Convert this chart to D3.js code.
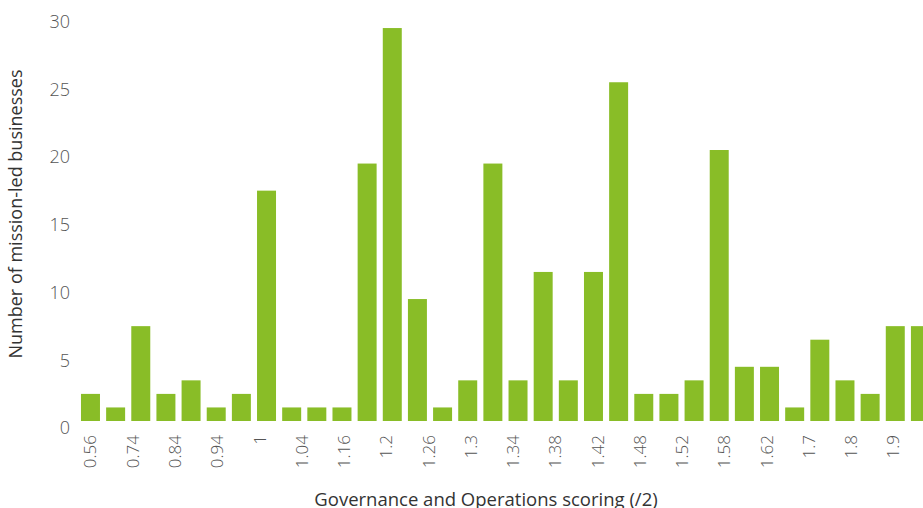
<!DOCTYPE html>
<html><head><meta charset="utf-8">
<script src="https://cdnjs.cloudflare.com/ajax/libs/d3/7.8.5/d3.min.js"></script>
<style>body{margin:0;background:#fff;overflow:hidden}text{font-family:"Open Sans",sans-serif}</style>
</head><body><svg id="c" width="923" height="508"></svg>
<script>
const barIndex = d3.range(1, 35);
const counts = [2,1,7,2,3,1,2,17,1,1,1,19,29,9,1,3,19,3,11,3,11,25,2,2,3,20,4,4,1,6,3,2,7,7];
const tickLabels = ["0.56","0.74","0.84","0.94","1","1.04","1.16","1.2","1.26","1.3","1.34","1.38","1.42","1.48","1.52","1.58","1.62","1.7","1.8","1.9"];
const yTicks = [0,5,10,15,20,25,30];
const xTitle = "Governance and Operations scoring (/2)";
const yTitle = "Number of mission-led businesses";

const svg = d3.select("#c");
const x = d3.scaleBand().domain(barIndex).range([77.9, 933]).paddingInner(0.245).paddingOuter(0.1225);
const xl = d3.scalePoint().domain(tickLabels).range([90, 893]);
const y = d3.scaleLinear().domain([0, 30]).range([421, 14.5]);

svg.append("g").selectAll("rect").data(counts).join("rect")
  .attr("x", (d, i) => x(barIndex[i]))
  .attr("width", x.bandwidth())
  .attr("y", d => y(d))
  .attr("height", d => y(0) - y(d))
  .attr("fill", "#89bd27");

const ya = svg.append("g").attr("transform", "translate(70,7)")
  .call(d3.axisLeft(y).tickValues(yTicks).tickSize(0).tickPadding(0));
ya.select(".domain").remove();
ya.selectAll("text").attr("font-size", 18).attr("fill", "#555").attr("font-family", "Open Sans").attr("font-weight", 300);

const xa = svg.append("g").attr("transform", "translate(0,435)")
  .call(d3.axisBottom(xl).tickSize(0).tickPadding(0));
xa.select(".domain").remove();
xa.selectAll("text").attr("font-size", 17).attr("fill", "#555").attr("font-family", "Open Sans").attr("font-weight", 300)
  .attr("text-anchor", "end").attr("transform", "rotate(-90)").attr("x", 0).attr("y", 0).attr("dy", "0.35em");

svg.append("text").attr("x", 486).attr("y", 506).attr("text-anchor", "middle")
  .attr("font-size", 18.5).attr("font-weight", 400).attr("fill", "#333").text(xTitle);
svg.append("text").attr("transform", "translate(16,214) rotate(-90)").attr("text-anchor", "middle")
  .attr("dy", "0.35em").attr("font-size", 18).attr("font-weight", 400).attr("fill", "#333").text(yTitle);
</script></body></html>
